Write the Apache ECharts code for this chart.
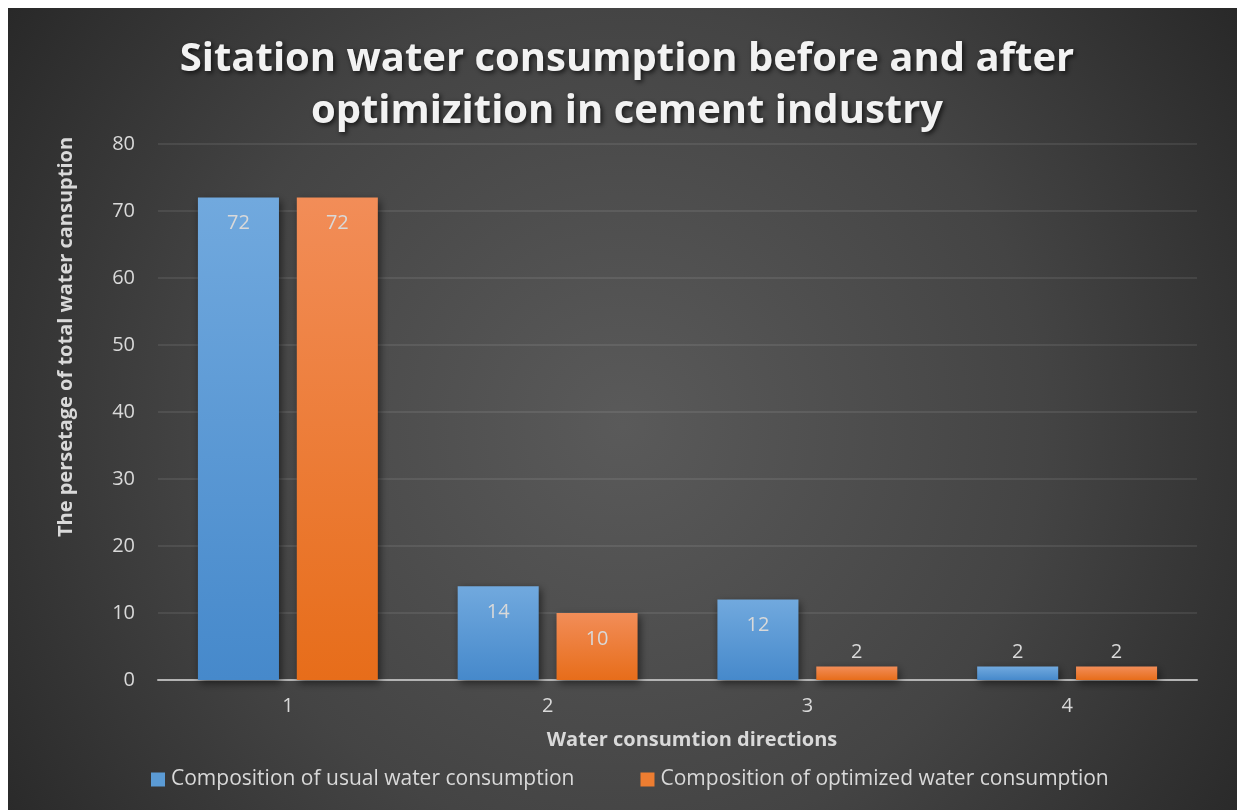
<!DOCTYPE html>
<html>
<head>
<meta charset="utf-8">
<script src="https://cdn.jsdelivr.net/npm/echarts@6/dist/echarts.min.js"></script>
<style>
html,body{margin:0;padding:0;background:#fff;width:1237px;height:810px;overflow:hidden}
#c{position:absolute;left:8px;top:8px;width:1229px;height:802px}
</style>
</head>
<body>
<div id="c"></div>
<script>
const categories = ['1', '2', '3', '4'];
const usualValues = [72, 14, 12, 2];
const optimizedValues = [72, 10, 2, 2];
const seriesNames = ['Composition of usual water consumption', 'Composition of optimized water consumption'];
const yTicks = [0, 10, 20, 30, 40, 50, 60, 70, 80];
const titleText = 'Sitation water consumption before and after\noptimizition in cement industry';
const yAxisTitle = 'The persetage of total water cansuption';
const xAxisTitle = 'Water consumtion directions';

const FONT = '"Open Sans", "Noto Sans", sans-serif';
const LABEL_COLOR = '#d9d9d9';

function grad(top, bottom) {
  return new echarts.graphic.LinearGradient(0, 0, 0, 1, [
    {offset: 0, color: top}, {offset: 1, color: bottom}
  ]);
}

function buildData(values) {
  return values.map(v => ({
    value: v,
    label: v >= 5 ? {position: 'insideTop', distance: 16} : {position: 'top', distance: 4}
  }));
}

const chart = echarts.init(document.getElementById('c'), null, {renderer: 'canvas'});
chart.setOption({
  backgroundColor: {
    type: 'radial', x: 0.5, y: 0.52, r: 0.95,
    colorStops: [
      {offset: 0, color: '#5a5a5a'},
      {offset: 0.55, color: '#444444'},
      {offset: 1, color: '#272727'}
    ]
  },
  title: {
    text: titleText,
    left: 614, top: 21, textAlign: 'center',
    textStyle: {
      fontFamily: FONT, fontWeight: 'bold', fontSize: 40, lineHeight: 52,
      color: '#f2f2f2',
      textShadowColor: 'rgba(0,0,0,0.7)', textShadowBlur: 5,
      textShadowOffsetX: 2, textShadowOffsetY: 2
    }
  },
  grid: {left: 150, right: 40, top: 136, bottom: 130, containLabel: false},
  legend: {
    data: [
      {name: seriesNames[0], itemStyle: {color: '#5b9bd5'}},
      {name: seriesNames[1], itemStyle: {color: '#ed7d31'}}
    ],
    left: 138, top: 756,
    itemWidth: 14, itemHeight: 14, itemGap: 66,
    icon: 'rect',
    textStyle: {fontFamily: FONT, fontSize: 21, color: LABEL_COLOR, padding: [0, 0, 0, 1]}
  },
  xAxis: {
    type: 'category',
    data: categories,
    axisTick: {show: false},
    axisLine: {lineStyle: {color: '#b4b4b4', width: 2}},
    axisLabel: {fontFamily: FONT, fontSize: 20, color: LABEL_COLOR, margin: 16}
  },
  yAxis: {
    type: 'value', min: 0, max: 80, interval: 10,
    axisLine: {show: false},
    axisTick: {show: false},
    axisLabel: {fontFamily: FONT, fontSize: 20, color: LABEL_COLOR, margin: 23,
      formatter: v => (yTicks.includes(v) ? String(v) : '')},
    splitLine: {lineStyle: {color: 'rgba(255,255,255,0.11)', width: 1.5}}
  },
  graphic: [
    {
      type: 'text', x: 58, y: 329, rotation: Math.PI / 2,
      style: {text: yAxisTitle, fontFamily: FONT, fontWeight: 'bold', fontSize: 20,
        fill: LABEL_COLOR, align: 'center', verticalAlign: 'middle'}
    },
    {
      type: 'text', x: 684, y: 732,
      style: {text: xAxisTitle, fontFamily: FONT, fontWeight: 'bold', fontSize: 20,
        fill: LABEL_COLOR, align: 'center', verticalAlign: 'middle'}
    }
  ],
  series: [
    {
      name: seriesNames[0], type: 'bar', data: buildData(usualValues),
      barWidth: '31.2%', barGap: '22%',
      itemStyle: {color: grad('#71a9de', '#4689cb'),
        shadowColor: 'rgba(0,0,0,0.55)', shadowBlur: 8, shadowOffsetX: 2, shadowOffsetY: 3},
      label: {show: true, fontFamily: FONT, fontSize: 20, color: LABEL_COLOR}
    },
    {
      name: seriesNames[1], type: 'bar', data: buildData(optimizedValues),
      barWidth: '31.2%', barGap: '22%',
      itemStyle: {color: grad('#f28d58', '#e76d1a'),
        shadowColor: 'rgba(0,0,0,0.55)', shadowBlur: 8, shadowOffsetX: 2, shadowOffsetY: 3},
      label: {show: true, fontFamily: FONT, fontSize: 20, color: LABEL_COLOR}
    }
  ]
});
</script>
</body>
</html>
